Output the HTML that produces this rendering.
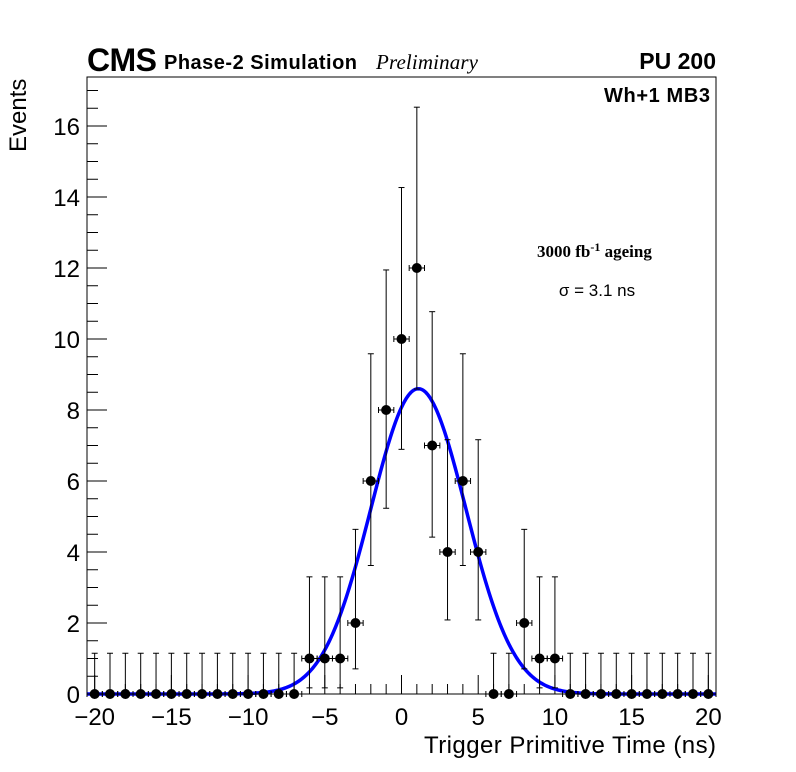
<!DOCTYPE html>
<html><head><meta charset="utf-8"><style>
html,body{margin:0;padding:0;background:#fff;}
svg{display:block;font-family:"Liberation Sans",sans-serif;}
</style></head><body>
<svg id="chart" width="796" height="772" viewBox="0 0 796 772">
<rect width="796" height="772" fill="#fff"/>
<g id="axes"></g>
<g id="marks"></g>
<rect x="87" y="77" width="629" height="617" fill="none" stroke="#000" stroke-width="1"/>
<text x="87" y="71" font-size="32" font-weight="bold" textLength="70">CMS</text>
<text x="164" y="69" font-size="20" font-weight="bold" textLength="193">Phase-2 Simulation</text>
<text x="376" y="69" font-size="21" font-style="italic" font-family="Liberation Serif, serif" textLength="102">Preliminary</text>
<text x="716" y="69" font-size="23" font-weight="bold" text-anchor="end">PU 200</text>
<text x="710" y="102" font-size="20" font-weight="bold" text-anchor="end" textLength="106">Wh+1 MB3</text>
<text x="537" y="257" font-size="17" font-weight="bold" font-family="Liberation Serif, serif">3000 fb<tspan dy="-6" font-size="12">-1</tspan><tspan dy="6"> ageing</tspan></text>
<text x="597" y="296" font-size="17" text-anchor="middle">σ = 3.1 ns</text>
<text x="716" y="753" font-size="24" text-anchor="end" textLength="292">Trigger Primitive Time (ns)</text>
<text transform="translate(26,152) rotate(-90)" font-size="24">Events</text>
</svg>
<script>
const bins = [-20,-19,-18,-17,-16,-15,-14,-13,-12,-11,-10,-9,-8,-7,-6,-5,-4,-3,-2,-1,0,1,2,3,4,5,6,7,8,9,10,11,12,13,14,15,16,17,18,19,20];
const counts = [0,0,0,0,0,0,0,0,0,0,0,0,0,0,1,1,1,2,6,8,10,12,7,4,6,4,0,0,2,1,1,0,0,0,0,0,0,0,0,0,0];
const errLowTable = {0:0,1:0.827,2:1.292,4:1.914,6:2.38,7:2.581,8:2.768,10:3.108,12:3.41};
const errHighTable = {0:1.148,1:2.3,2:2.638,4:3.163,6:3.584,7:3.77,8:3.945,10:4.267,12:4.53};
const fitAmp = [8.6];
const fitMean = [1.1];
const fitSigma = [3.1];
const xTicks = [-20,-15,-10,-5,0,5,10,15,20];
const xTickLabels = ["\u221220","\u221215","\u221210","\u22125","0","5","10","15","20"];
const yTicks = [0,2,4,6,8,10,12,14,16];
const yTickLabels = ["0","2","4","6","8","10","12","14","16"];

const NS="http://www.w3.org/2000/svg";
const X0=87,X1=716,Y0=694,Y1=77, xmin=-20.5,xmax=20.5, ymin=0, ymax=(694-77)/35.5;
const sx=v=>X0+(v-xmin)/(xmax-xmin)*(X1-X0);
const sy=v=>Y0-(v-ymin)/(ymax-ymin)*(Y0-Y1);
function mk(tag,attrs,parent){const e=document.createElementNS(NS,tag);for(const k in attrs)e.setAttribute(k,attrs[k]);parent.appendChild(e);return e;}
const axes=document.getElementById('axes'), marks=document.getElementById('marks');

for(let v=-20;v<=20;v++){
  const major=v%5===0;
  const t=mk('line',{x1:sx(v),x2:sx(v),y1:Y0,y2:Y0-(major?19:10),stroke:'#000','stroke-width':1},axes);
  
  
}
xTicks.forEach((v,i)=>{
  const t=mk('text',{x:sx(v),y:725,'font-size':24,'text-anchor':'middle'},axes);
  t.textContent=xTickLabels[i];
  
  
});
for(let v=0;v<=ymax;v+=0.5){
  const major=Math.abs(v%2)<1e-9;
  const t=mk('line',{x1:X0,x2:X0+(major?20:11),y1:sy(v),y2:sy(v),stroke:'#000','stroke-width':1},axes);
  
  
}
yTicks.forEach((v,i)=>{
  const t=mk('text',{x:80,y:sy(v)+9,'font-size':24,'text-anchor':'end'},axes);
  t.textContent=yTickLabels[i];
  
  
});

let d='';
for(let x=xmin;x<=xmax+1e-9;x+=0.1){
  const y=fitAmp[0]*Math.exp(-0.5*Math.pow((x-fitMean[0])/fitSigma[0],2));
  d+=(d?'L':'M')+sx(x).toFixed(2)+','+sy(y).toFixed(2);
}
const fit=mk('path',{d:d,fill:'none',stroke:'#0000ff','stroke-width':3.5},marks);



bins.forEach((b,i)=>{
  const n=counts[i];
  const lo=errLowTable[n]!==undefined?errLowTable[n]:Math.sqrt(n);
  const hi=errHighTable[n]!==undefined?errHighTable[n]:Math.sqrt(n)+1;
  const g=mk('g',{},marks);
  
  
  const cx=sx(b), cy=sy(n);
  mk('line',{x1:cx,x2:cx,y1:sy(n+hi),y2:sy(Math.max(0,n-lo)),stroke:'#000','stroke-width':1},g);
  mk('line',{x1:cx-3,x2:cx+3,y1:sy(n+hi),y2:sy(n+hi),stroke:'#000','stroke-width':1},g);
  if(n-lo>0) mk('line',{x1:cx-3,x2:cx+3,y1:sy(n-lo),y2:sy(n-lo),stroke:'#000','stroke-width':1},g);
  mk('line',{x1:sx(b-0.5),x2:sx(b+0.5),y1:cy,y2:cy,stroke:'#000','stroke-width':1},g);
  mk('line',{x1:sx(b-0.5),x2:sx(b-0.5),y1:cy-3,y2:cy+3,stroke:'#000','stroke-width':1},g);
  mk('line',{x1:sx(b+0.5),x2:sx(b+0.5),y1:cy-3,y2:cy+3,stroke:'#000','stroke-width':1},g);
  mk('circle',{cx:cx,cy:cy,r:5,fill:'#000'},g);
});
</script>
</body></html>
